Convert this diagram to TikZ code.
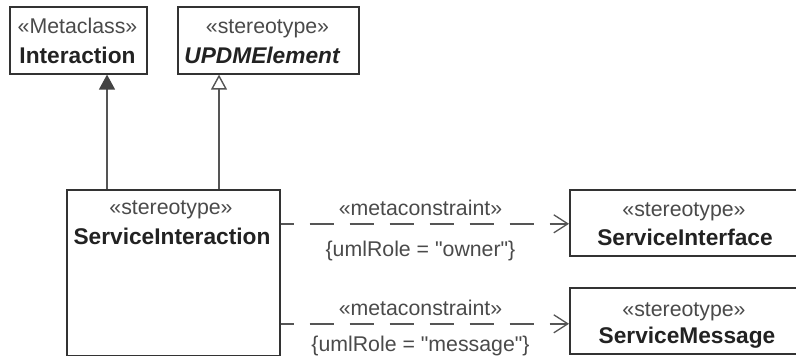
\documentclass[tikz,border=0pt]{standalone}
\usepackage{fontspec}
\setmainfont{Liberation Sans}[Ligatures=TeXOff]
\usetikzlibrary{arrows.meta}
\definecolor{boxc}{HTML}{333333}
\definecolor{stc}{HTML}{4A4A4A}
\definecolor{nmc}{HTML}{222222}
\definecolor{linec}{HTML}{555555}
\definecolor{darkc}{HTML}{444444}
\begin{document}
\begin{tikzpicture}[x=1pt,y=-1pt,
  box/.style={draw=boxc, line width=1.6pt, fill=white, inner sep=0pt, anchor=north west},
  st/.style={font=\fontsize{21.3}{24}\selectfont, text=stc, anchor=base, inner sep=0pt},
  nm/.style={font=\fontsize{22.7}{26}\selectfont\bfseries, text=nmc, anchor=base, inner sep=0pt},
  lbl/.style={font=\fontsize{21.3}{24}\selectfont, text=stc, anchor=base, inner sep=0pt},
  gen/.style={draw=linec, line width=1.4pt},
  dep/.style={draw=linec, line width=1.4pt, dash pattern=on 24pt off 16pt, dash phase=11pt,
    -{Straight Barb[length=14pt,width=18pt,line width=1.3pt]}}
]
\useasboundingbox (0,0) rectangle (796,356);

% boxes
\node[box, minimum width=137pt, minimum height=67pt] (ia) at (9,6) {};
\node[box, minimum width=181pt, minimum height=67pt] (ue) at (177,6) {};
\node[box, minimum width=213pt, minimum height=166pt] (si) at (66,189) {};
\node[box, minimum width=231pt, minimum height=66pt] (sif) at (569,189) {};
\node[box, minimum width=231pt, minimum height=66pt] (smg) at (569,287) {};

% texts
\node[st] (ias) at (77.5,34) {«Metaclass»};
\node[nm] (ian) at (77.5,63) {Interaction};
\node[st] (ues) at (267.5,34) {«stereotype»};
\node[nm, font=\fontsize{22.7}{26}\selectfont\bfseries\itshape] (uen) at (262,63) {UPDMElement};
\node[st] (sis) at (171,214) {«stereotype»};
\node[nm] (sin) at (172,244) {ServiceInteraction};
\node[st] (sifs) at (684,216) {«stereotype»};
\node[nm] (sifn) at (685,245) {ServiceInterface};
\node[st] (smgs) at (684,316) {«stereotype»};
\node[nm] (smgn) at (687,343) {ServiceMessage};

% connector labels
\node[lbl] (l1a) at (420.5,215) {«metaconstraint»};
\node[lbl] (l1b) at (420.5,256) {\{umlRole = "owner"\}};
\node[lbl] (l2a) at (420.5,315) {«metaconstraint»};
\node[lbl] (l2b) at (420.5,351) {\{umlRole = "message"\}};

% generalizations
\draw[gen, -{Triangle[length=15pt,width=16pt,fill=darkc,color=darkc]}]
  ([xshift=41pt]si.north west) -- ([xshift=98pt]ia.south west);
\draw[gen, -{Triangle[open,length=15pt,width=16pt,fill=white]}]
  ([xshift=153pt]si.north west) -- ([xshift=42pt]ue.south west);

% dependencies
\path ([yshift=-1pt]sif.west) coordinate (m1);
\path ([yshift=-3pt]smg.west) coordinate (m2);
\draw[dep] (si.east |- m1) -- (m1);
\draw[dep] (si.east |- m2) -- (m2);
\end{tikzpicture}
\end{document}
